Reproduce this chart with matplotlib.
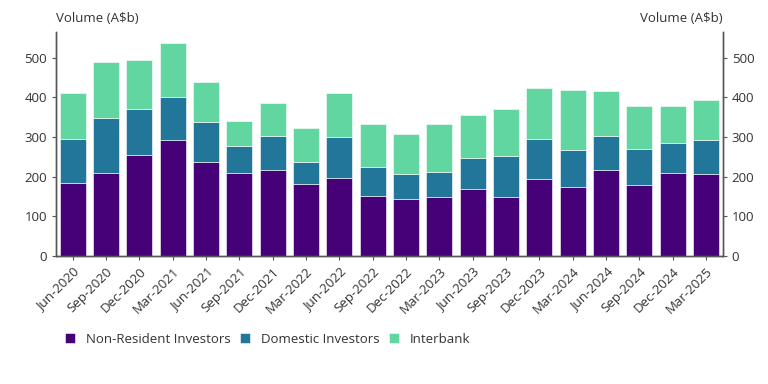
import numpy as np
import matplotlib.pyplot as plt

plt.rcParams['font.family'] = ['Open Sans', 'DejaVu Sans']

quarters = ['Jun-2020', 'Sep-2020', 'Dec-2020', 'Mar-2021', 'Jun-2021', 'Sep-2021',
            'Dec-2021', 'Mar-2022', 'Jun-2022', 'Sep-2022', 'Dec-2022', 'Mar-2023',
            'Jun-2023', 'Sep-2023', 'Dec-2023', 'Mar-2024', 'Jun-2024', 'Sep-2024',
            'Dec-2024', 'Mar-2025']

# cumulative tops, converted to segment sizes below
non_resident = [184, 209, 254, 292, 236, 209, 218, 181, 197, 152,
                144, 149, 168, 149, 194, 175, 217, 180, 210, 208]
domestic_top = [294, 347, 371, 402, 338, 277, 303, 237, 299, 225,
                207, 212, 247, 252, 294, 268, 303, 271, 286, 293]
total = [412, 490, 494, 537, 439, 340, 386, 324, 412, 334,
         307, 334, 355, 371, 424, 418, 415, 379, 377, 394]

domestic = np.array(domestic_top) - np.array(non_resident)
interbank = np.array(total) - np.array(domestic_top)

c_nr = '#460078'
c_dom = '#22769A'
c_ib = '#62D6A0'
text_c = '#333333'

fig, ax = plt.subplots(figsize=(7.68, 3.84), dpi=100)
fig.subplots_adjust(left=0.073, right=0.941, top=0.917, bottom=0.333)

x = np.arange(len(quarters))
w = 0.78
ax.bar(x, non_resident, w, color=c_nr, edgecolor='white', linewidth=0.4, label='Non-Resident Investors')
ax.bar(x, domestic, w, bottom=non_resident, color=c_dom, edgecolor='white', linewidth=0.4, label='Domestic Investors')
ax.bar(x, interbank, w, bottom=domestic_top, color=c_ib, edgecolor='white', linewidth=0.4, label='Interbank')

ax.set_xlim(-0.5, len(quarters) - 0.5)
ax.set_ylim(0, 565)
ax.set_yticks(range(0, 501, 100))
ax.set_xticks(x)
ax.set_xticklabels(quarters, rotation=45, ha='right', rotation_mode='anchor')

ax2 = ax.twinx()
ax2.set_ylim(ax.get_ylim())
ax2.set_yticks(range(0, 501, 100))

for a in (ax, ax2):
    a.spines['top'].set_visible(False)
    for s in ('left', 'right', 'bottom'):
        a.spines[s].set_color('#555555')
        a.spines[s].set_linewidth(1)
    a.tick_params(colors='#555555', labelcolor=text_c, labelsize=9.5, length=3)

ax.text(0, 1.03, 'Volume (A$b)', transform=ax.transAxes, ha='left', va='bottom',
        fontsize=9.5, color=text_c)
ax.text(1, 1.03, 'Volume (A$b)', transform=ax.transAxes, ha='right', va='bottom',
        fontsize=9.5, color=text_c)

ax.legend(loc='upper left', bbox_to_anchor=(-0.005, -0.29), ncol=3, frameon=False,
          fontsize=9.5, handlelength=0.8, handleheight=0.8, columnspacing=0.7,
          handletextpad=0.8, labelcolor=text_c)

fig.savefig('out.png', dpi=100)
